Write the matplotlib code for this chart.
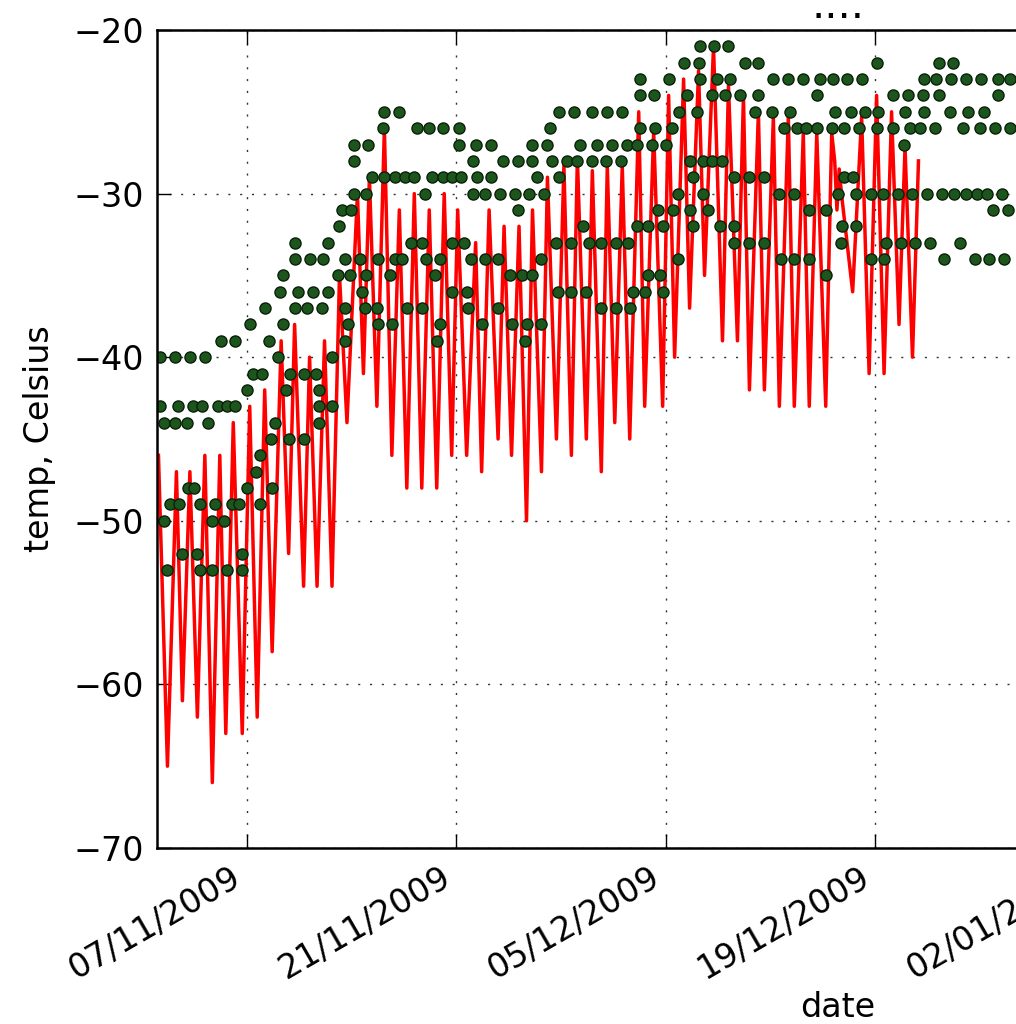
import matplotlib
matplotlib.use("Agg")
import matplotlib.pyplot as plt
import matplotlib.dates as mdates
from matplotlib.ticker import FixedLocator
import numpy as np
import pandas as pd

start = pd.Timestamp("2009-11-01")
x_end = pd.Timestamp("2010-01-31")

# measured temperature, time in days since 01/11/2009
red_day = [0.1, 0.7, 1.3, 1.7, 2.2, 2.7, 3.2, 3.7, 4.2, 4.6, 5.1, 5.7, 6.2, 6.7,
           7.2, 7.7, 8.3, 8.8, 9.2, 9.8, 10.2, 10.7, 11.2, 11.7, 12.2, 12.7,
           13.4, 13.8, 14.2, 14.7, 15.2, 15.7, 16.2, 16.7, 17.2, 17.7, 18.2,
           18.7, 19.2, 19.7, 20.1, 20.7, 21.3, 21.7, 22.2, 22.8, 23.2, 23.7,
           24.2, 24.7, 25.1, 25.7, 26.1, 26.7, 27.2, 27.7, 28.1, 28.7, 29.1,
           29.7, 30.1, 30.6, 31.1, 31.6, 32.2, 32.6, 33.2, 33.8, 34.2, 34.6,
           35.2, 35.6, 36.2, 36.6, 37.2, 37.8, 38.2, 38.8, 39.2, 39.6, 40.2,
           40.6, 41.2, 41.6, 42.2, 42.6, 43.2, 43.6, 44.1, 44.7, 45.1, 45.3,
           45.45, 45.6, 45.75, 46.5, 47.1, 47.6, 48.1, 48.6, 49.1, 49.6, 50.0,
           50.5, 50.9]
red_temp = [-46, -65, -47, -61, -47, -62, -46, -66, -46, -63, -44, -63, -43, -62,
            -42, -58, -39, -52, -38, -54, -40, -54, -39, -54, -35, -44,
            -30, -41, -29, -43, -26, -46, -31, -48, -30, -48, -31,
            -48, -30, -46, -31, -46, -33, -47, -31, -45, -32, -46,
            -32, -50, -31, -47, -29, -45, -28.3, -46, -27.8, -45, -28.6,
            -47, -28.3, -44, -28.3, -45, -25, -43, -26.2, -43, -24, -40,
            -23, -37, -22.5, -35, -21, -39, -23.4, -39, -24, -42, -25,
            -42, -25.3, -43, -25.3, -43, -26.3, -43, -26.3, -43, -26.3, -28,
            -31, -28.5, -30, -36, -25.3, -41, -24, -41, -25, -38, -27.2,
            -40, -28]

# forecast values: temperature level -> days since 01/11/2009
dot_rows = {
    -21: [36.3, 37.2, 38.2],
    -22: [35.2, 36.2, 39.3, 40.2, 48.1, 52.3, 53.2],
    -23: [32.3, 34.2, 36.3, 37.4, 38.3, 41.2, 42.2, 43.2, 44.3, 45.2, 46.1,
          47.1, 51.3, 52.1, 53.1, 54.1, 55.1, 56.2, 57.0],
    -24: [32.3, 33.2, 35.4, 37.1, 38.0, 39.0, 40.2, 44.1, 49.2, 50.2, 51.2,
          52.3, 56.2],
    -25: [15.2, 16.2, 26.9, 27.9, 29.1, 30.1, 31.1, 34.9, 36.1, 40.0, 41.1,
          42.3, 45.3, 46.4, 47.3, 48.2, 50.0, 51.3, 53.0, 54.2, 55.3],
    -26: [15.1, 17.4, 18.2, 19.1, 20.2, 26.3, 32.3, 33.3, 34.4, 41.9, 42.8,
          43.4, 44.1, 45.1, 45.9, 46.9, 48.1, 49.2, 50.3, 51.0, 52.0, 53.9,
          55.0, 56.0, 57.0],
    -27: [13.2, 14.1, 20.2, 21.3, 22.3, 25.1, 26.1, 28.3, 29.4, 30.4, 31.4,
          32.1, 33.1, 34.0, 49.9],
    -28: [13.2, 21.1, 23.1, 24.1, 25.1, 26.4, 27.4, 28.1, 29.1, 30.0, 31.0,
          35.6, 36.5, 37.1, 37.8],
    -29: [14.4, 15.2, 15.9, 16.6, 17.2, 18.4, 19.1, 19.7, 20.3, 21.4, 22.3,
          25.4, 26.9, 35.8, 38.6, 39.6, 40.6, 45.9, 46.5],
    -30: [13.2, 14.0, 17.9, 21.1, 21.9, 22.9, 23.9, 24.9, 25.9, 34.8, 36.5,
          41.6, 42.6, 45.5, 46.7, 47.7, 48.5, 49.5, 50.5, 51.5, 52.5, 53.3,
          54.1, 54.8, 55.5, 56.5],
    -31: [12.4, 13.0, 24.1, 33.5, 34.5, 35.6, 36.8, 43.6, 44.7, 55.9, 56.9],
    -32: [12.2, 28.5, 32.1, 32.8, 33.8, 35.8, 37.6, 38.6, 45.8, 46.7],
    -33: [9.2, 11.4, 17.0, 17.7, 19.7, 20.5, 26.7, 27.7, 28.9, 29.7, 30.7,
          31.5, 38.6, 39.6, 40.6, 45.7, 48.7, 49.7, 50.7, 51.7, 53.7],
    -34: [9.2, 10.2, 11.1, 12.6, 13.6, 14.8, 15.9, 16.4, 18.0, 18.9, 21.0,
          21.9, 22.8, 25.7, 34.8, 41.7, 42.6, 43.6, 47.7, 48.6, 52.6, 54.7,
          55.6, 56.6],
    -35: [8.4, 12.1, 12.9, 14.0, 15.6, 18.6, 23.6, 24.4, 25.1, 32.8, 33.6,
          44.7],
    -36: [8.2, 9.4, 10.4, 11.4, 13.7, 19.7, 20.7, 26.8, 27.7, 28.7, 31.8,
          32.6, 33.8],
    -37: [7.2, 9.2, 10.0, 11.0, 12.6, 13.9, 14.7, 16.7, 17.7, 20.8, 22.8,
          29.7, 30.7, 31.6],
    -38: [6.2, 8.4, 12.8, 14.8, 15.7, 18.9, 21.7, 23.7, 24.7, 25.7],
    -39: [4.3, 5.2, 7.5, 12.6, 18.7, 24.6],
    -40: [0.2, 1.2, 2.2, 3.2, 8.1, 11.7],
    -41: [6.4, 7.0, 8.9, 9.8, 10.6],
    -42: [6.0, 8.6, 10.8],
    -43: [0.2, 1.4, 2.4, 3.0, 4.1, 4.7, 5.2, 10.8, 11.7],
    -44: [0.5, 1.2, 2.0, 3.4, 7.9, 10.8],
    -45: [7.6, 8.8, 9.8],
    -46: [6.9],
    -47: [6.6],
    -48: [2.1, 2.5, 6.0, 7.7],
    -49: [0.9, 1.5, 2.9, 3.9, 5.0, 5.5, 6.9],
    -50: [0.5, 3.7, 4.5],
    -52: [1.7, 2.7, 5.7],
    -53: [0.7, 2.9, 3.7, 4.7, 5.7],
}

tick_dates = pd.date_range("2009-11-07", periods=7, freq="14D")
y_ticks = [-70, -60, -50, -40, -30, -20]

red_t = start + pd.to_timedelta(red_day, unit="D")
dot_day = [d for temp in dot_rows for d in dot_rows[temp]]
dot_temp = [temp for temp in dot_rows for d in dot_rows[temp]]
dot_t = start + pd.to_timedelta(dot_day, unit="D")

fig = plt.figure(figsize=(10.16, 10.24), dpi=100)
ax = fig.add_axes([0.1545, 0.1719, 1.340, 0.7988])

ax.plot(red_t, red_temp, color="red", lw=2.5)
ax.plot(dot_t, dot_temp, "o", ms=8, mfc="#1c561c", mec="#0a200a", mew=1)

ax.set_xlim(start, x_end)
ax.set_ylim(-70, -20)
ax.set_yticks(y_ticks)
ax.xaxis.set_major_locator(FixedLocator(mdates.date2num(tick_dates)))
ax.xaxis.set_major_formatter(mdates.DateFormatter("%d/%m/%Y"))
for lab in ax.get_xticklabels():
    lab.set_rotation(30)
    lab.set_ha("right")

ax.tick_params(direction="in", top=True, right=True, length=10, width=1,
               labelsize=24, pad=9)
for s in ax.spines.values():
    s.set_linewidth(1.8)
ax.grid(True, color="k", linestyle=(0, (1.5, 7)), linewidth=1, alpha=0.8)

ax.set_xlabel("date", fontsize=24)
ax.set_ylabel("temp, Celsius", fontsize=24, labelpad=13)
ax.set_title("....", fontsize=30, pad=9)

fig.savefig("out.png", dpi=100)
